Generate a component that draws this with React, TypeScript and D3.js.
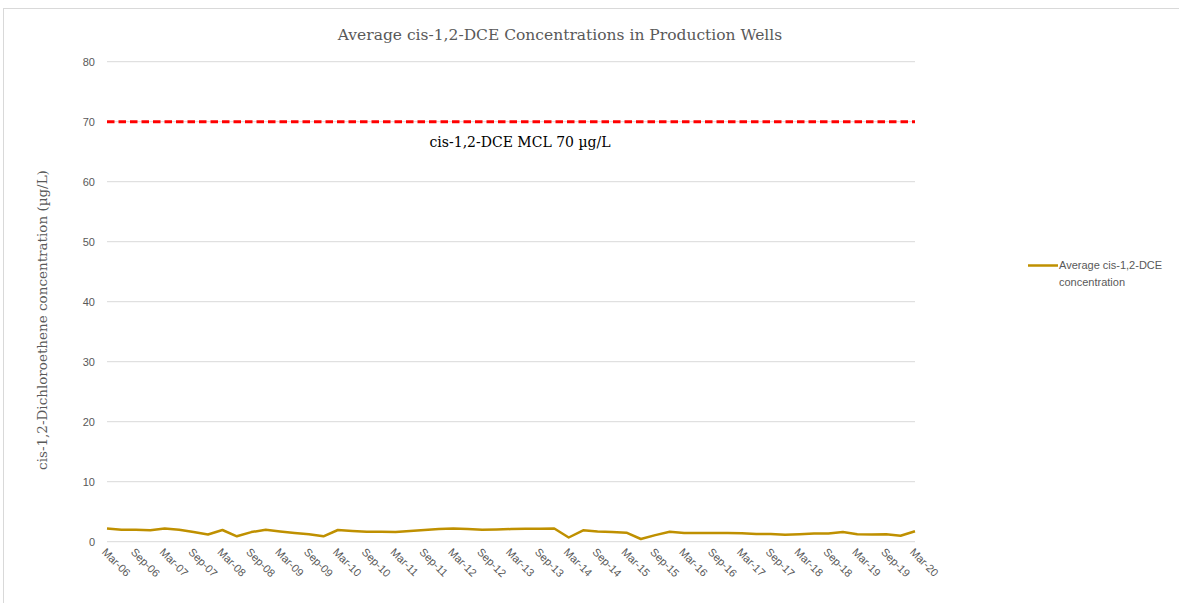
import React from "react";
import * as d3 from "d3";

const categories: string[] = [
  "Mar-06", "Jun-06", "Sep-06", "Dec-06",
  "Mar-07", "Jun-07", "Sep-07", "Dec-07",
  "Mar-08", "Jun-08", "Sep-08", "Dec-08",
  "Mar-09", "Jun-09", "Sep-09", "Dec-09",
  "Mar-10", "Jun-10", "Sep-10", "Dec-10",
  "Mar-11", "Jun-11", "Sep-11", "Dec-11",
  "Mar-12", "Jun-12", "Sep-12", "Dec-12",
  "Mar-13", "Jun-13", "Sep-13", "Dec-13",
  "Mar-14", "Jun-14", "Sep-14", "Dec-14",
  "Mar-15", "Jun-15", "Sep-15", "Dec-15",
  "Mar-16", "Jun-16", "Sep-16", "Dec-16",
  "Mar-17", "Jun-17", "Sep-17", "Dec-17",
  "Mar-18", "Jun-18", "Sep-18", "Dec-18",
  "Mar-19", "Jun-19", "Sep-19", "Dec-19",
  "Mar-20",
];

const avgDCE: number[] = [
  2.2, 2.0, 2.0, 1.9,
  2.2, 2.0, 1.6, 1.2,
  1.95, 0.9, 1.6, 2.0,
  1.7, 1.45, 1.25, 0.9,
  1.95, 1.8, 1.65, 1.65,
  1.6, 1.8, 1.95, 2.1,
  2.2, 2.1, 2.0, 2.05,
  2.1, 2.15, 2.15, 2.2,
  0.7, 1.9, 1.7, 1.6,
  1.5, 0.45, 1.1, 1.65,
  1.45, 1.45, 1.45, 1.45,
  1.4, 1.3, 1.3, 1.15,
  1.25, 1.35, 1.35, 1.6,
  1.25, 1.2, 1.25, 1.0,
  1.75,
];

const yTicks: number[] = [0, 10, 20, 30, 40, 50, 60, 70, 80];
const xTickLabels: string[] = categories.filter((c) => c.startsWith("Mar") || c.startsWith("Sep"));
const mclValue = 70;

const title = "Average cis-1,2-DCE Concentrations in Production Wells";
const yTitle = "cis-1,2-Dichloroethene concentration (µg/L)";
const mclLabel = "cis-1,2-DCE MCL 70 µg/L";
const legendLines = ["Average cis-1,2-DCE", "concentration"];

const W = 1179;
const H = 603;
const plot = { left: 107, right: 915, top: 61.7, bottom: 541.7 };

export default function App() {
  const x = d3.scalePoint<string>().domain(categories).range([plot.left, plot.right]);
  const y = d3.scaleLinear().domain([0, 80]).range([plot.bottom, plot.top]);
  const line = d3
    .line<number>()
    .x((_, i) => x(categories[i]) as number)
    .y((d) => y(d));
  const serif = "'DejaVu Serif', serif";
  const sans = "'Liberation Sans', Arial, sans-serif";

  return (
    <svg
      width={W}
      height={H}
      style={{ position: "absolute", left: 0, top: 0, background: "#fff" }}
    >
      <rect x={3.5} y={8.5} width={1180} height={600} fill="#fff" stroke="#D9D9D9" />
      <text
        x={560}
        y={39.5}
        textAnchor="middle"
        fontFamily={serif}
        fontSize={15.5}
        fill="#595959"
      >
        {title}
      </text>
      {yTicks.map((t) => (
        <g key={t}>
          <line x1={plot.left} x2={plot.right} y1={y(t)} y2={y(t)} stroke="#D9D9D9" strokeWidth={1} />
          <text
            x={95}
            y={y(t)}
            dy="0.35em"
            textAnchor="end"
            fontFamily={sans}
            fontSize={11}
            fill="#595959"
          >
            {t}
          </text>
        </g>
      ))}
      <text
        transform={`translate(47, 320) rotate(-90)`}
        textAnchor="middle"
        fontFamily={serif}
        fontSize={13.5}
        fill="#595959"
      >
        {yTitle}
      </text>
      {xTickLabels.map((c) => (
        <text
          key={c}
          transform={`translate(${(x(c) as number) - 3}, 550) rotate(45)`}
          dy="0.35em"
          textAnchor="start"
          fontFamily={sans}
          fontSize={11}
          fill="#595959"
        >
          {c}
        </text>
      ))}
      <line
        x1={plot.left}
        x2={plot.right}
        y1={y(mclValue)}
        y2={y(mclValue)}
        stroke="#FF0000"
        strokeWidth={3}
        strokeDasharray="7.5,4"
      />
      <text x={520} y={147} textAnchor="middle" fontFamily={serif} fontSize={14} fill="#000">
        {mclLabel}
      </text>
      <path d={line(avgDCE) || ""} fill="none" stroke="#BF9000" strokeWidth={2.5} strokeLinejoin="round" />
      <line x1={1028} x2={1058} y1={265.5} y2={265.5} stroke="#BF9000" strokeWidth={2.5} />
      {legendLines.map((l, i) => (
        <text
          key={l}
          x={1059}
          y={265.5 + i * 17}
          dy="0.35em"
          fontFamily={sans}
          fontSize={11}
          fill="#595959"
        >
          {l}
        </text>
      ))}
    </svg>
  );
}
